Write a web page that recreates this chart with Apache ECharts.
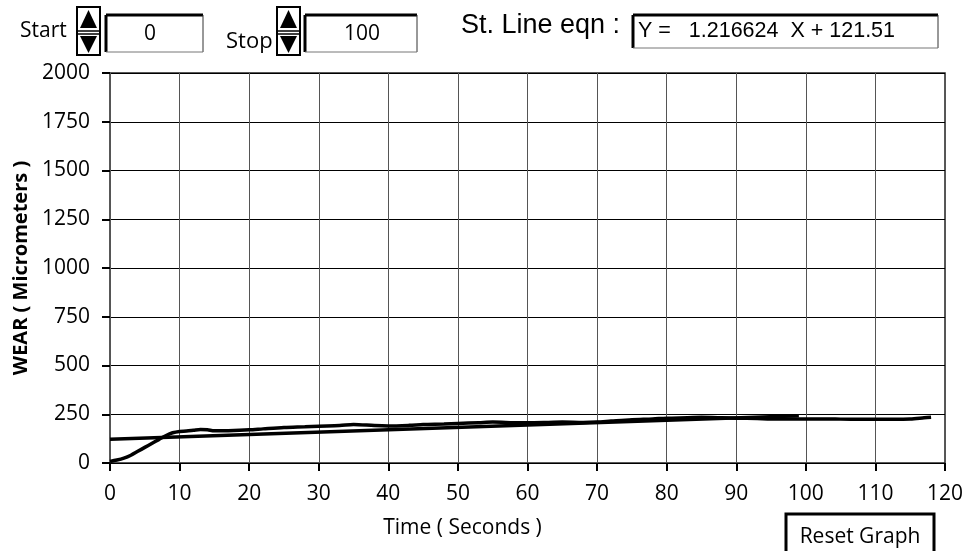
<!DOCTYPE html>
<html>
<head>
<meta charset="utf-8">
<script src="https://cdn.jsdelivr.net/npm/echarts@6/dist/echarts.min.js"></script>
<style>
html,body{margin:0;padding:0;background:#fff;}
#c{width:976px;height:551px;}
</style>
</head>
<body>
<div id="c"></div>
<script>
// ---- data ----
var wearTime = [0,1,2,3,4,5,6,7,8,9,10,11,12,13,14,15,17,20,22,25,28,30,33,35,38,40,43,45,48,50,53,55,58,60,63,65,68,70,72,75,78,80,83,85,88,90,93,95,98,100,103,105,108,110,113,115,117,118];
var wearValue = [8,15,25,40,60,80,100,120,140,155,162,164,168,172,170,165,166,170,175,182,186,189,192,198,192,190,193,197,200,203,207,210,207,206,208,210,208,210,215,222,226,230,232,234,232,230,228,226,226,226,226,225,224,224,224,226,232,235];
var fitSlope = 1.216624;
var fitIntercept = 121.51;
var fitRange = [0, 99];
var xTicks = [0,10,20,30,40,50,60,70,80,90,100,110,120];
var yTicks = [0,250,500,750,1000,1250,1500,1750,2000];
var startValue = "0";
var stopValue = "100";
var eqnText = "Y =   1.216624  X + 121.51";

var wearData = wearTime.map(function(t,i){return [t, wearValue[i]];});
var fitData = fitRange.map(function(t){return [t, fitSlope*t + fitIntercept];});

var chart = echarts.init(document.getElementById('c'));
var labelFont = '"Open Sans", "DejaVu Sans", sans-serif';
var arialFont = '"Liberation Sans", Arial, sans-serif';

function spin(x, y) {
  return [
    {type:'rect', shape:{x:x, y:y, width:23, height:48}, style:{fill:'#fff', stroke:'#000', lineWidth:2}},
    {type:'polygon', shape:{points:[[x+3,y+21],[x+20,y+21],[x+11.5,y+3]]}, style:{fill:'#000'}},
    {type:'line', shape:{x1:x, y1:y+24, x2:x+23, y2:y+24}, style:{stroke:'#000', lineWidth:1.5}},
    {type:'line', shape:{x1:x, y1:y+27, x2:x+23, y2:y+27}, style:{stroke:'#000', lineWidth:1.5}},
    {type:'polygon', shape:{points:[[x+3,y+29],[x+20,y+29],[x+11.5,y+46]]}, style:{fill:'#000'}}
  ];
}
function box(x, y, w, h) {
  return [
    {type:'rect', shape:{x:x, y:y, width:w, height:h}, style:{fill:'#fff', stroke:null}},
    {type:'line', shape:{x1:x, y1:y, x2:x+w, y2:y}, style:{stroke:'#000', lineWidth:3}},
    {type:'line', shape:{x1:x, y1:y, x2:x, y2:y+h}, style:{stroke:'#000', lineWidth:3}},
    {type:'line', shape:{x1:x+w, y1:y, x2:x+w, y2:y+h}, style:{stroke:'#333', lineWidth:1}},
    {type:'line', shape:{x1:x, y1:y+h, x2:x+w, y2:y+h}, style:{stroke:'#777', lineWidth:1}}
  ];
}
function txtm(s, x, y, font, align) {
  return {type:'text', x:x, y:y, style:{text:s, font:font, fill:'#000', textAlign:align||'left', textVerticalAlign:'middle', align:align||'left', verticalAlign:'middle'}};
}

var graphics = [].concat(
  [txtm('Start', 20, 31, '21px ' + labelFont)],
  spin(77, 7),
  box(106, 15, 97, 37),
  [txtm(startValue, 150, 34, '21px ' + labelFont, 'center')],
  [txtm('Stop', 226, 42, '22px ' + labelFont)],
  spin(277, 7),
  box(305, 15, 112, 37),
  [txtm(stopValue, 362, 34, '21px ' + labelFont, 'center')],
  [txtm('St. Line eqn :', 461, 26, '27px ' + arialFont)],
  box(633, 15, 305, 33),
  [txtm(eqnText, 638, 31, '21.5px ' + arialFont)],
  [{type:'rect', shape:{x:786, y:514, width:148, height:42}, style:{fill:'#fff', stroke:'#000', lineWidth:3}}],
  [txtm('Reset Graph', 860, 537, '21px ' + labelFont, 'center')]
);

chart.setOption({
  animation:false,
  backgroundColor:'#fff',
  grid:{left:110, right:31, top:73, bottom:88, show:true, borderColor:'#222', borderWidth:1.5, backgroundColor:'#fff'},
  xAxis:{
    type:'value', min:0, max:120, interval:10, offset:5,
    name:'Time ( Seconds )', nameLocation:'middle', nameGap:50,
    nameTextStyle:{fontFamily:labelFont, fontSize:21, color:'#000', padding:[0,130,0,0]},
    axisLine:{show:false},
    axisTick:{show:true, length:8, lineStyle:{color:'#000', width:2}},
    axisLabel:{fontFamily:labelFont, fontSize:21, color:'#000', margin:16,
      formatter:function(v){return xTicks.indexOf(v)>=0 ? String(v) : '';}},
    splitLine:{show:true, lineStyle:{color:'#555', width:1}}
  },
  yAxis:{
    type:'value', min:0, max:2000, interval:250, offset:5,
    name:'WEAR ( Micrometers )', nameLocation:'middle', nameGap:72,
    nameTextStyle:{fontFamily:labelFont, fontSize:20, fontWeight:'bold', color:'#000'},
    axisLine:{show:false},
    axisTick:{show:true, length:8, lineStyle:{color:'#000', width:2}},
    axisLabel:{fontFamily:labelFont, fontSize:21, color:'#000', margin:15,
      formatter:function(v){return yTicks.indexOf(v)>=0 ? String(v) : '';}},
    splitLine:{show:true, lineStyle:{color:'#000', width:1}}
  },
  series:[
    {type:'line', data:wearData, showSymbol:false, smooth:0.3, lineStyle:{color:'#000', width:3.5}, z:3},
    {type:'line', data:fitData, showSymbol:false, lineStyle:{color:'#000', width:3.5}, z:4}
  ],
  graphic:graphics
});
</script>
</body>
</html>
